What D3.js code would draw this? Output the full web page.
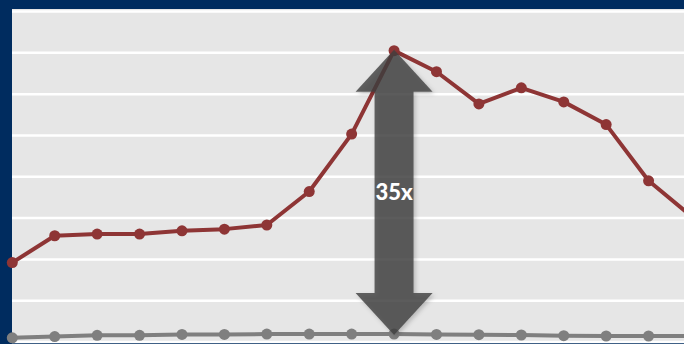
<!DOCTYPE html>
<html>
<head>
<meta charset="utf-8">
<script src="https://cdn.jsdelivr.net/npm/d3@7/dist/d3.min.js"></script>
<style>
  html, body { margin: 0; padding: 0; background: #002c5f; }
  svg { display: block; }
</style>
</head>
<body>
<svg id="chart" width="684" height="344"></svg>
<script>
// ---- data ----
const periods = d3.range(17).map(i => "P" + (i + 1));
const seriesHigh = [1.91, 2.56, 2.60, 2.60, 2.68, 2.72, 2.82, 3.63, 5.02, 7.04, 6.53, 5.75, 6.14, 5.80, 5.25, 3.89, 3.04];
const seriesLow  = [0.09, 0.12, 0.15, 0.15, 0.17, 0.17, 0.18, 0.18, 0.18, 0.18, 0.17, 0.165, 0.157, 0.14, 0.133, 0.133, 0.133];
const yTicks = [0, 1, 2, 3, 4, 5, 6, 7, 8];
const annotationLabel = "35x";
const peakIndex = 9;

// ---- layout ----
const W = 684, H = 344;
const plot = { left: 12, top: 9, right: 684, bottom: 342 };

const svg = d3.select("#chart");

const x = d3.scalePoint().domain(periods).range([12.3, 691]);
const y = d3.scaleLinear().domain([0, 8]).range([341.5, 11]);

// frame
svg.append("rect").attr("x", 0).attr("y", 0).attr("width", W).attr("height", H).attr("fill", "#002c5f");
svg.append("rect")
  .attr("x", plot.left).attr("y", plot.top)
  .attr("width", plot.right - plot.left).attr("height", plot.bottom - plot.top)
  .attr("fill", "#e6e6e6");

// gridlines via axis
const yAxis = d3.axisLeft(y).tickValues(yTicks).tickSize(-(plot.right - plot.left)).tickFormat("");
const gAxis = svg.append("g").attr("transform", `translate(${plot.left},0)`).call(yAxis);
gAxis.select(".domain").remove();
gAxis.selectAll(".tick line").attr("stroke", "#ffffff").attr("stroke-width", 2.5);

// defs
const defs = svg.append("defs");
const f = defs.append("filter").attr("id", "shadow").attr("x", "-30%").attr("y", "-30%").attr("width", "160%").attr("height", "160%");
f.append("feDropShadow").attr("dx", 2).attr("dy", 2).attr("stdDeviation", 2).attr("flood-color", "#000").attr("flood-opacity", 0.25);

// lines
const line = d3.line().x((d, i) => x(periods[i])).y(d => y(d));

function drawSeries(data, color) {
  svg.append("path").datum(data)
    .attr("d", line).attr("fill", "none")
    .attr("stroke", color).attr("stroke-width", 4).attr("stroke-linejoin", "round");
  svg.append("g").selectAll("circle").data(data).join("circle")
    .attr("cx", (d, i) => x(periods[i])).attr("cy", d => y(d))
    .attr("r", 5.5).attr("fill", color);
}
drawSeries(seriesLow, "#7f7f7f");
drawSeries(seriesHigh, "#8e3535");

// double arrow annotation
const cx = x(periods[peakIndex]);
const yTop = y(seriesHigh[peakIndex]) - 1;
const yBot = y(seriesLow[peakIndex]) + 1;
const shaftHalf = 19.5, headHalf = 38.5, headLen = 42;
const pts = [
  [cx, yTop],
  [cx + headHalf, yTop + headLen],
  [cx + shaftHalf, yTop + headLen],
  [cx + shaftHalf, yBot - headLen],
  [cx + headHalf, yBot - headLen],
  [cx, yBot],
  [cx - headHalf, yBot - headLen],
  [cx - shaftHalf, yBot - headLen],
  [cx - shaftHalf, yTop + headLen],
  [cx - headHalf, yTop + headLen]
];
svg.append("path")
  .attr("d", d3.line()(pts) + "Z")
  .attr("fill", "#404040").attr("fill-opacity", 0.8)
  .attr("filter", "url(#shadow)");

svg.append("text")
  .attr("x", cx).attr("y", (yTop + yBot) / 2 + 8)
  .attr("text-anchor", "middle")
  .attr("font-family", "Lato, 'Open Sans', sans-serif")
  .attr("font-weight", 900).attr("font-size", 22)
  .attr("fill", "#ffffff")
  .text(annotationLabel);
</script>
</body>
</html>
